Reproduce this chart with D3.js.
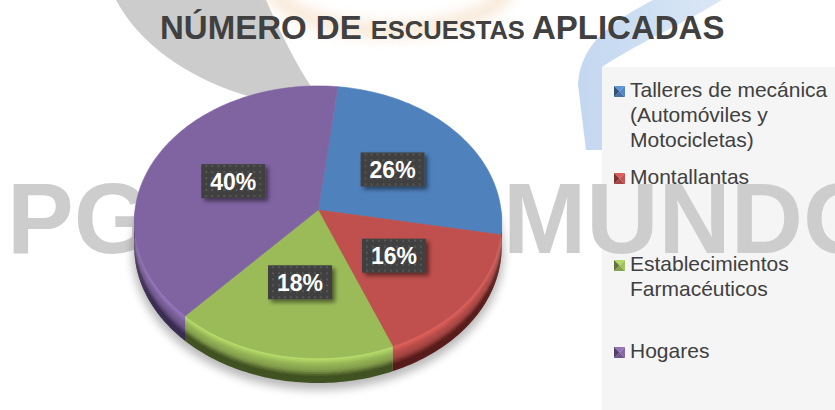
<!DOCTYPE html>
<html>
<head>
<meta charset="utf-8">
<script src="https://cdn.jsdelivr.net/npm/d3@7"></script>
<style>
  body { margin: 0; background: #fff; }
  svg { display: block; }
  text { font-family: "Liberation Sans", Arial, sans-serif; }
</style>
</head>
<body>
<script>
// datos del grafico
var categories = ["Talleres de mecánica (Automóviles y Motocicletas)", "Montallantas", "Establecimientos Farmacéuticos", "Hogares"];
var values = [26, 16, 18, 40];
var legendLines = [["Talleres de mecánica", "(Automóviles y", "Motocicletas)"], ["Montallantas"], ["Establecimientos", "Farmacéuticos"], ["Hogares"]];
var titleParts = ["NÚMERO DE ", "ESCUESTAS ", "APLICADAS"];
var watermarkWords = ["PG", "MUNDO"];

// colores (estilo Office 2007)
var colors = ["#4f81bd", "#c0504d", "#9bbb59", "#8064a2"];
var darks = ["#213a5c", "#571b19", "#415222", "#392a50"];

(function(){
var W = 835, H = 410;
var cx = 318, cy = 210, RX = 183, RY = 135, K = 0.088, DEPTH = 25;
var startDeg = 6.8;

var svg = d3.select("body").append("svg")
  .attr("width", W).attr("height", H);

var defs = svg.append("defs");

// filtro de sombra difusa bajo el pastel
defs.append("filter").attr("id", "blur").attr("x", "-20%").attr("y", "-20%").attr("width", "140%").attr("height", "140%")
  .append("feGaussianBlur").attr("stdDeviation", 5);
defs.append("filter").attr("id", "soft").attr("x", "-30%").attr("y", "-30%").attr("width", "160%").attr("height", "160%")
  .append("feGaussianBlur").attr("stdDeviation", 6);

// sombra de las etiquetas
var ds = defs.append("filter").attr("id", "lblShadow").attr("x", "-30%").attr("y", "-30%").attr("width", "160%").attr("height", "160%");
ds.append("feDropShadow").attr("dx", 3).attr("dy", 3).attr("stdDeviation", 2)
  .attr("flood-color", "#000").attr("flood-opacity", 0.5);

// patron punteado de las etiquetas
var pat = defs.append("pattern").attr("id", "dots").attr("patternUnits", "userSpaceOnUse")
  .attr("width", 6).attr("height", 6);
pat.append("rect").attr("width", 6).attr("height", 6).attr("fill", "#404040");
pat.append("rect").attr("x", 2).attr("y", 2).attr("width", 2).attr("height", 2).attr("fill", "#575757");

// degradado del trazo azul de fondo
var bg = defs.append("linearGradient").attr("id", "blueSwoosh").attr("x1", 0).attr("y1", 0).attr("x2", 1).attr("y2", 0);
bg.append("stop").attr("offset", "0%").attr("stop-color", "#c3d7f0");
bg.append("stop").attr("offset", "100%").attr("stop-color", "#dbe7f6");

// ---- marca de agua del fondo ----
svg.append("path") // trazo gris
  .attr("d", "M116,0 C140,45 195,88 282,104 L332,104 L312,88 C296,64 281,34 266,0 Z")
  .attr("fill", "#cccccc");
svg.append("ellipse") // logo naranja, muy tenue
  .attr("cx", 390).attr("cy", -20).attr("rx", 120).attr("ry", 50)
  .attr("fill", "none").attr("stroke", "#f5dcc0").attr("stroke-width", 18)
  .attr("opacity", 0.55).attr("filter", "url(#soft)");
svg.append("path") // trazo azul
  .attr("d", "M653,0 C615,20 580,42 578,85 L586,150 L602,150 L602,67 C640,42 690,20 722,0 Z")
  .attr("fill", "url(#blueSwoosh)");

// fondo de la leyenda
svg.append("rect")
  .attr("x", 602).attr("y", 67).attr("width", W - 602).attr("height", H - 67)
  .attr("fill", "#f5f5f5");

svg.append("text").attr("x", 7).attr("y", 253)
  .attr("font-size", 100).attr("font-weight", "bold").attr("fill", "#cdcdcd")
  .text(watermarkWords[0]);
svg.append("text").attr("x", 503).attr("y", 253)
  .attr("font-size", 100).attr("font-weight", "bold").attr("fill", "#cdcdcd")
  .text(watermarkWords[1]);

// ---- pastel 3D ----
var start = startDeg * Math.PI / 180;
var pie = d3.pie().sort(null).startAngle(start).endAngle(start + 2 * Math.PI);
var arcs = pie(values);

// proyeccion en perspectiva de un punto del disco
function proj(a, r, dz) {
  var u = Math.sin(a) * r, v = Math.cos(a) * r;
  var f = 1 / (1 + K * v);
  return [cx + RX * u * f, cy - RY * v * f + dz];
}
function arcPts(a0, a1, r, dz) {
  var n = Math.max(2, Math.ceil((a1 - a0) / 0.02));
  return d3.range(n + 1).map(function(i){ return proj(a0 + (a1 - a0) * i / n, r, dz); });
}
var line = d3.line().curve(d3.curveLinearClosed);

// sombra
svg.append("path")
  .attr("d", line(arcPts(0, 2 * Math.PI, 1.01, DEPTH + 5)))
  .attr("fill", "#000").attr("opacity", 0.28)
  .attr("filter", "url(#blur)");

// caras laterales, en franjas para simular el bisel
var N = 14;
var sides = svg.append("g").attr("class", "sides");
arcs.forEach(function(d, k){
  var b0 = Math.max(d.startAngle, Math.PI / 2), b1 = Math.min(d.endAngle, 3 * Math.PI / 2);
  if (b1 <= b0) return;
  var base = d3.rgb(colors[k]);
  var shade = d3.piecewise(d3.interpolateRgb, [base.brighter(0.45), base.darker(0.1), base.darker(0.5), darks[k], darks[k]]);
  for (var i = 0; i < N; i++) {
    var z0 = DEPTH * i / N, z1 = Math.min(DEPTH, DEPTH * (i + 1) / N + 0.7);
    var pts = arcPts(b0, b1, 1, z0).concat(arcPts(b0, b1, 1, z1).reverse());
    sides.append("path").attr("d", line(pts)).attr("fill", shade(i / (N - 1)));
  }
});

// caras superiores
svg.append("g").attr("class", "slices")
  .selectAll("path").data(arcs).enter().append("path")
  .attr("d", function(d){ return line([[cx, cy]].concat(arcPts(d.startAngle, d.endAngle, 1, 0))); })
  .attr("fill", function(d, i){ return colors[i]; })
  .attr("stroke", function(d, i){ return colors[i]; })
  .attr("stroke-width", 0.6);

// etiquetas de porcentaje
var total = d3.sum(values);
var fmt = d3.format(".0%");
var lbl = svg.append("g").attr("class", "labels")
  .selectAll("g").data(arcs).enter().append("g")
  .attr("transform", function(d){
    var p = proj((d.startAngle + d.endAngle) / 2, 0.52, 0);
    return "translate(" + p[0] + "," + p[1] + ")";
  });
lbl.append("rect")
  .attr("x", -32).attr("y", -17).attr("width", 64).attr("height", 34)
  .attr("fill", "url(#dots)").attr("filter", "url(#lblShadow)");
lbl.append("text")
  .attr("text-anchor", "middle").attr("y", 8.5)
  .attr("font-size", 23).attr("font-weight", "bold").attr("fill", "#fff")
  .text(function(d){ return fmt(d.value / total); });

// ---- titulo ----
var sizes = [33, 25.5, 33];
svg.append("text").attr("x", 160).attr("y", 39)
  .attr("font-weight", "bold").attr("fill", "#404040")
  .style("white-space", "pre")
  .selectAll("tspan").data(titleParts).enter().append("tspan")
  .attr("font-size", function(d, i){ return sizes[i]; })
  .text(function(d){ return d; });

// ---- leyenda ----
var yLeg = d3.scalePoint().domain(categories).range([97, 358]);
var leg = svg.append("g").attr("class", "legend")
  .selectAll("g").data(categories).enter().append("g")
  .attr("transform", function(d){ return "translate(614," + yLeg(d) + ")"; });

// marcador con aspecto de piramide
var s = 11;
leg.each(function(d, i){
  var g = d3.select(this), c = d3.rgb(colors[i]);
  var tris = [
    [[0, -s], [s, -s], [s / 2, -s / 2], c.brighter(0.4)],
    [[s, -s], [s, 0], [s / 2, -s / 2], c.brighter(0.1)],
    [[s, 0], [0, 0], [s / 2, -s / 2], c.darker(0.4)],
    [[0, 0], [0, -s], [s / 2, -s / 2], c.darker(1.3)]
  ];
  tris.forEach(function(t){
    g.append("path").attr("d", line([t[0], t[1], t[2]])).attr("fill", t[3]);
  });
  g.append("text").attr("x", 16).attr("y", 0)
    .attr("font-size", 21).attr("fill", "#404040")
    .selectAll("tspan").data(legendLines[i]).enter().append("tspan")
    .attr("x", 16).attr("dy", function(t, j){ return j === 0 ? 0 : 25; })
    .text(function(t){ return t; });
});

})();
</script>
</body>
</html>
